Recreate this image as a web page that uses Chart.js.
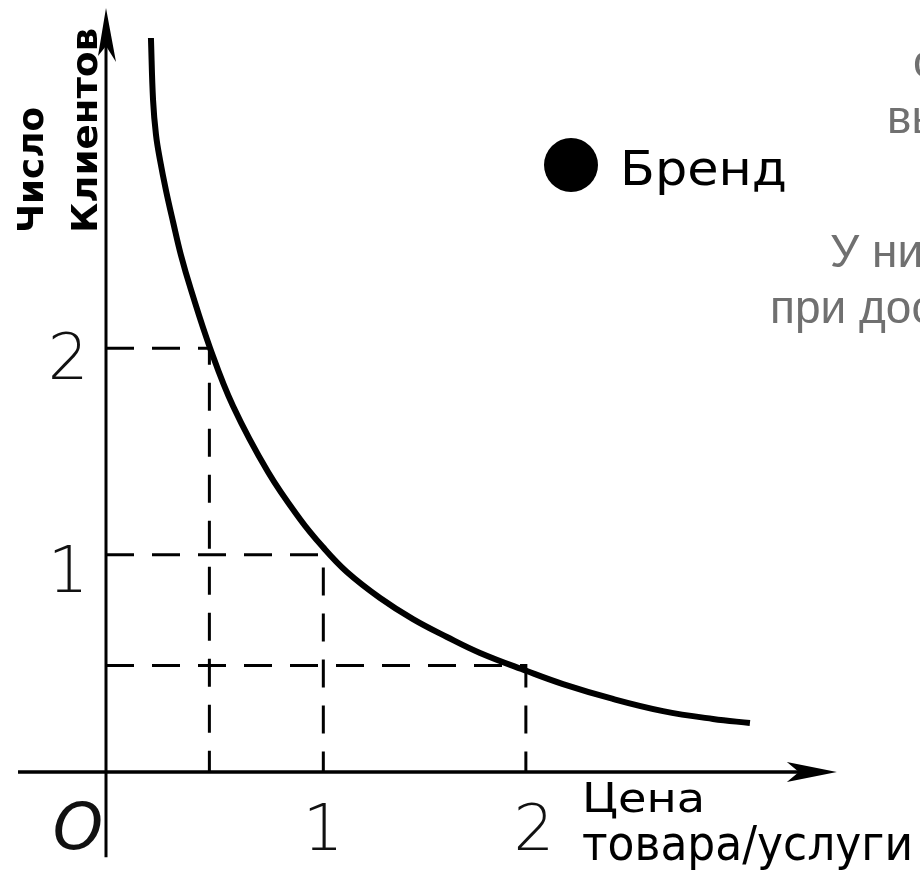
<!DOCTYPE html>
<html><head><meta charset="utf-8">
<script src="https://cdn.jsdelivr.net/npm/chart.js@4.4.1/dist/chart.umd.min.js"></script>
<style>html,body{margin:0;padding:0;background:#fff;}#wrap{width:920px;height:876px;}</style>
</head><body><div id="wrap"><canvas id="c" width="920" height="876"></canvas></div>
<script>
// ---- data ----
const priceValues  = [0.213, 0.223, 0.237, 0.256, 0.284, 0.318, 0.355, 0.403, 0.493, 0.602, 0.768, 0.919,
                      1.028, 1.142, 1.299, 1.455, 1.616, 1.773, 1.995, 2.166, 2.403, 2.640, 2.877, 3.052];
const clientValues = [3.446, 3.155, 2.991, 2.873, 2.732, 2.582, 2.427, 2.263, 1.991, 1.718, 1.408, 1.188,
                      1.056, 0.939, 0.817, 0.718, 0.634, 0.559, 0.474, 0.413, 0.343, 0.286, 0.249, 0.230];
const guidePrice   = [0.49, 1.03, 1.99];
const guideClients = [1.99, 1.02, 0.50];
const xTickValues  = [1, 2];
const xTickLabels  = ['1', '2'];
const yTickValues  = [1, 2];
const yTickLabels  = ['1', '2'];
const originLabel  = 'O';
const xAxisTitle   = ['Цена', 'товара/услуги'];
const yAxisTitle   = ['Число', 'Клиентов'];
const legendLabel  = 'Бренд';
const sideText     = ['о', 'вы', 'У ни', 'при дос'];

// axis extents (data units)
const X_RANGE = [-0.5024, 3.858];
const Y_RANGE = [-0.4883, 3.6244];
const X_AXIS_SPAN = [-0.417, 3.464];
const Y_AXIS_SPAN = [-0.40, 3.587];

const curveData = priceValues.map((x, i) => ({x: x, y: clientValues[i]}));
const guideSets = guidePrice.map((gx, i) => ({
  data: [{x: 0, y: guideClients[i]}, {x: gx, y: guideClients[i]}, {x: gx, y: 0}],
  borderColor: '#000', borderWidth: 3, borderDash: [28, 18], pointRadius: 0,
  tension: 0, fill: false, order: 2
}));

function fitText(ctx, text, x, y, width) {
  const w = ctx.measureText(text).width;
  ctx.save(); ctx.translate(x, y); ctx.scale(width / w, 1);
  ctx.fillText(text, 0, 0); ctx.restore();
}

const decor = {
  id: 'decor',
  beforeDraw(chart) {
    const ctx = chart.ctx;
    ctx.save(); ctx.fillStyle = '#fff'; ctx.fillRect(0, 0, chart.width, chart.height); ctx.restore();
  },
  beforeDatasetsDraw(chart) {
    const ctx = chart.ctx, xs = chart.scales.x, ys = chart.scales.y;
    const x0 = xs.getPixelForValue(0), y0 = ys.getPixelForValue(0);
    ctx.save();
    ctx.strokeStyle = '#000'; ctx.fillStyle = '#000'; ctx.lineWidth = 3.5;
    // x axis
    const xa = xs.getPixelForValue(X_AXIS_SPAN[0]), xb = xs.getPixelForValue(X_AXIS_SPAN[1]);
    ctx.beginPath(); ctx.moveTo(xa, y0); ctx.lineTo(xb - 20, y0); ctx.stroke();
    ctx.beginPath(); ctx.moveTo(xb, y0); ctx.lineTo(xb - 50, y0 - 10); ctx.lineTo(xb - 38, y0); ctx.lineTo(xb - 50, y0 + 10); ctx.closePath(); ctx.fill();
    // y axis
    const ya = ys.getPixelForValue(Y_AXIS_SPAN[0]), yb = ys.getPixelForValue(Y_AXIS_SPAN[1]);
    ctx.lineWidth = 3;
    ctx.beginPath(); ctx.moveTo(x0, ya); ctx.lineTo(x0, yb + 20); ctx.stroke();
    ctx.beginPath(); ctx.moveTo(x0, yb); ctx.lineTo(x0 - 8, yb + 48); ctx.lineTo(x0, yb + 38); ctx.lineTo(x0 + 10, yb + 54); ctx.closePath(); ctx.fill();
    ctx.restore();
  },
  afterDatasetsDraw(chart) {
    const ctx = chart.ctx, xs = chart.scales.x, ys = chart.scales.y;
    const x0 = xs.getPixelForValue(0), y0 = ys.getPixelForValue(0);
    ctx.save();
    ctx.fillStyle = '#111';
    // tick labels
    ctx.font = '200 64px "DejaVu Sans"';
    ctx.textAlign = 'center'; ctx.textBaseline = 'middle';
    xTickValues.forEach((v, i) => ctx.fillText(xTickLabels[i], xs.getPixelForValue(v) + 6, y0 + 61));
    yTickValues.forEach((v, i) => ctx.fillText(yTickLabels[i], x0 - 38, ys.getPixelForValue(v) + 16));
    ctx.font = 'italic 200 64px "DejaVu Sans"';
    ctx.fillText(originLabel, x0 - 28, y0 + 60);
    // x axis title
    ctx.fillStyle = '#000';
    ctx.textAlign = 'left'; ctx.textBaseline = 'alphabetic';
    ctx.font = '40px "DejaVu Sans"';
    fitText(ctx, xAxisTitle[0], 582, 812, 123);
    ctx.font = '48px "DejaVu Sans"';
    fitText(ctx, xAxisTitle[1], 582, 860, 331);
    // y axis title (rotated)
    ctx.font = 'bold 36px "DejaVu Sans"';
    [[yAxisTitle[0], 43, 233, 126], [yAxisTitle[1], 97, 233, 205]].forEach(([t, bx, sy, len]) => {
      ctx.save(); ctx.translate(bx, sy); ctx.rotate(-Math.PI / 2);
      fitText(ctx, t, 0, 0, len); ctx.restore();
    });
    // legend
    ctx.beginPath(); ctx.arc(571, 165, 27, 0, Math.PI * 2); ctx.fill();
    ctx.font = '48px "DejaVu Sans"';
    fitText(ctx, legendLabel, 620, 185, 167);
    // side slide text (cut by the edge)
    ctx.fillStyle = '#707070';
    ctx.font = '46px "Liberation Sans"';
    ctx.fillText(sideText[0], 913, 77);
    ctx.fillText(sideText[1], 887, 133);
    ctx.fillText(sideText[2], 830, 267);
    ctx.fillText(sideText[3], 770, 323);
    ctx.restore();
  }
};

new Chart(document.getElementById('c'), {
  type: 'line',
  data: {
    datasets: [
      {data: curveData, borderColor: '#000', borderWidth: 6, pointRadius: 0,
       tension: 0.4, fill: false, order: 1, borderCapStyle: 'butt'},
      ...guideSets
    ]
  },
  options: {
    responsive: false, animation: false, devicePixelRatio: 1,
    layout: {padding: 0},
    plugins: {legend: {display: false}, tooltip: {enabled: false}},
    scales: {
      x: {type: 'linear', min: X_RANGE[0], max: X_RANGE[1], display: false},
      y: {type: 'linear', min: Y_RANGE[0], max: Y_RANGE[1], display: false}
    }
  },
  plugins: [decor]
});
</script></body></html>
